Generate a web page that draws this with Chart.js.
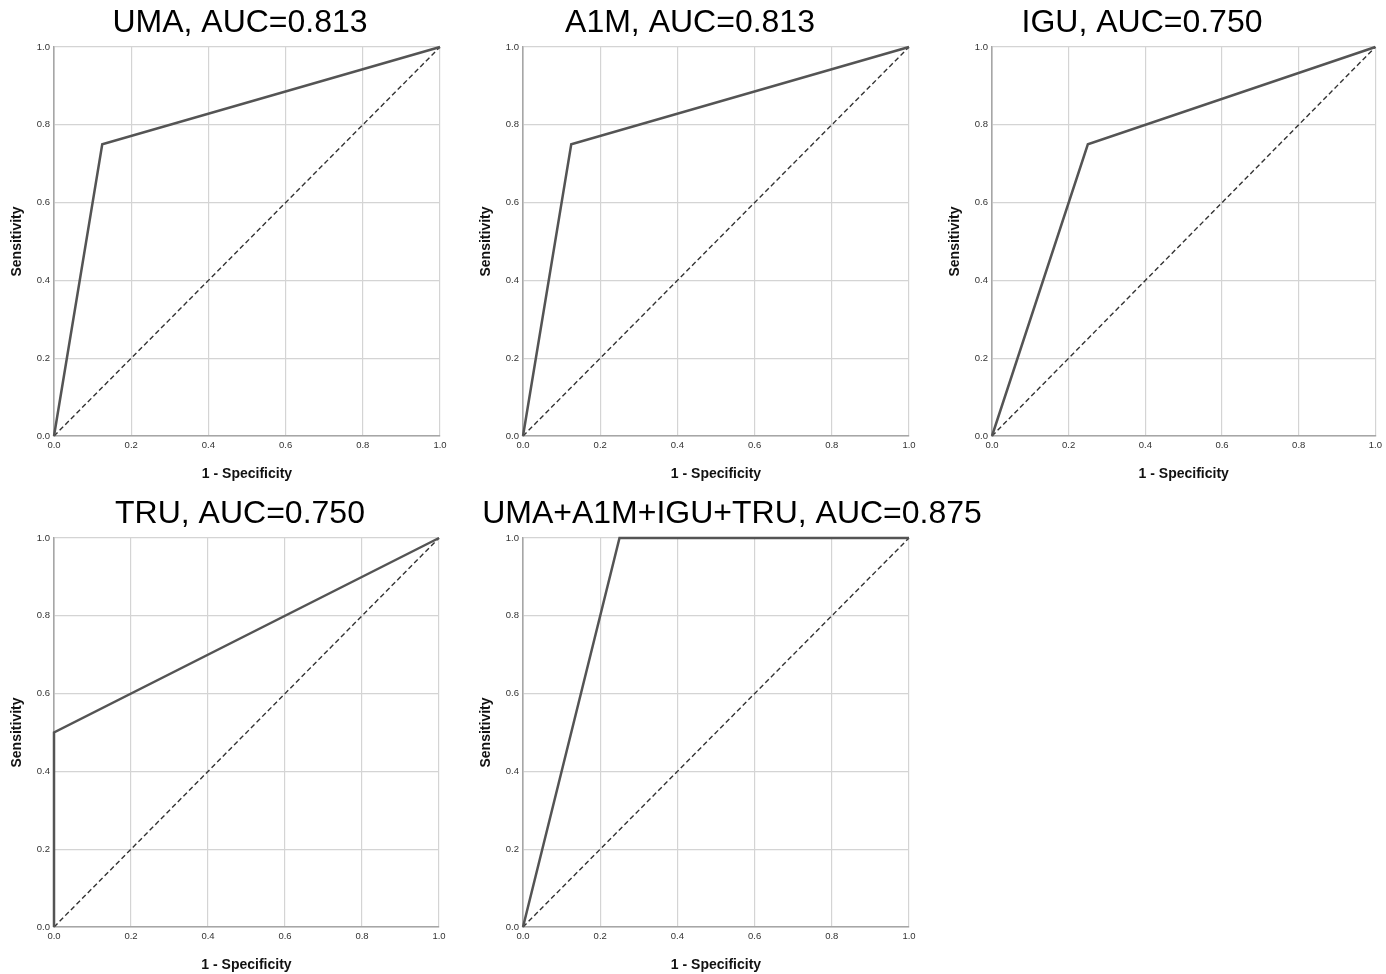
<!DOCTYPE html>
<html>
<head>
<meta charset="utf-8">
<script src="https://cdn.jsdelivr.net/npm/chart.js@4/dist/chart.umd.min.js"></script>
<style>
  body { margin: 0; background: #fff; width: 1386px; height: 974px; overflow: hidden; position: relative; }
  .box { position: absolute; }
</style>
</head>
<body>
<div class="box" id="b1"><canvas id="c1"></canvas></div>
<div class="box" id="b2"><canvas id="c2"></canvas></div>
<div class="box" id="b3"><canvas id="c3"></canvas></div>
<div class="box" id="b4"><canvas id="c4"></canvas></div>
<div class="box" id="b5"><canvas id="c5"></canvas></div>
<script>
// ROC curves
let titles = ['UMA, AUC=0.813', 'A1M, AUC=0.813', 'IGU, AUC=0.750', 'TRU, AUC=0.750', 'UMA+A1M+IGU+TRU, AUC=0.875'];
let umaX = [0, 0.125, 1];
let umaY = [0, 0.75, 1];
let a1mX = [0, 0.125, 1];
let a1mY = [0, 0.75, 1];
let iguX = [0, 0.25, 1];
let iguY = [0, 0.75, 1];
let truX = [0, 0, 1];
let truY = [0, 0.5, 1];
let allX = [0, 0.25, 1];
let allY = [0, 1, 1];
let refX = [0, 1];
let refY = [0, 1];
let tickLabels = ['0.0', '0.2', '0.4', '0.6', '0.8', '1.0'];

let curvesX = [umaX, a1mX, iguX, truX, allX];
let curvesY = [umaY, a1mY, iguY, truY, allY];

// canvas box for each panel; tc = where the title is centred (page x)
let boxes = [
  { left: 0,   top: 0,   w: 460, h: 490, pr: 20, tc: 240 },
  { left: 469, top: 0,   w: 460, h: 490, pr: 20, tc: 690 },
  { left: 938, top: 0,   w: 448, h: 490, pr: 9,  tc: 1142 },
  { left: 0,   top: 491, w: 460, h: 490, pr: 21, tc: 240 },
  { left: 469, top: 491, w: 521, h: 490, pr: 81, tc: 732 }
];

const FONT = '"Liberation Sans", Arial, sans-serif';

function toPoints(xs, ys) {
  return xs.map((x, i) => ({ x: x, y: ys[i] }));
}

function makeChart(i) {
  let b = boxes[i];
  let div = document.getElementById('b' + (i + 1));
  div.style.left = b.left + 'px';
  div.style.top = b.top + 'px';
  div.style.width = b.w + 'px';
  div.style.height = b.h + 'px';

  let axis = (title, isX) => ({
    type: 'linear',
    min: 0,
    max: 1,
    afterFit: s => { if (isX) s.height = 54; else s.width = 54; },
    afterBuildTicks: s => { s.ticks = tickLabels.map(t => ({ value: parseFloat(t) })); },
    ticks: {
      font: { family: FONT, size: 9.5 },
      color: '#333',
      padding: 4,
      maxRotation: 0,
      callback: (v, k) => tickLabels[k]
    },
    grid: { color: '#d4d4d4', lineWidth: 1.2, drawTicks: false },
    border: { color: '#a6a6a6', width: 1.6 },
    title: {
      display: true,
      text: title,
      color: '#111',
      font: { family: FONT, size: 14, weight: 'bold' },
      padding: isX ? { top: 0, bottom: 7 } : { top: 9, bottom: 0 }
    }
  });

  let panelTitle = {
    id: 'panelTitle',
    afterDraw(chart) {
      let ctx = chart.ctx;
      ctx.save();
      ctx.font = '32px ' + FONT;
      ctx.fillStyle = '#000';
      ctx.textAlign = 'center';
      ctx.textBaseline = 'middle';
      ctx.fillText(titles[i], b.tc - b.left, 23);
      ctx.restore();
    }
  };

  new Chart(document.getElementById('c' + (i + 1)), {
    type: 'scatter',
    data: {
      datasets: [
        {
          data: toPoints(curvesX[i], curvesY[i]),
          showLine: true,
          borderColor: '#545454',
          borderWidth: 2.5,
          pointRadius: 0,
          clip: false,
          order: 0
        },
        {
          data: toPoints(refX, refY),
          showLine: true,
          borderColor: '#333',
          borderWidth: 1.4,
          borderDash: [5, 3],
          pointRadius: 0,
          clip: false,
          order: 1
        }
      ]
    },
    options: {
      responsive: true,
      maintainAspectRatio: false,
      animation: false,
      layout: { padding: { left: 0, right: b.pr, top: 47, bottom: 0 } },
      plugins: {
        legend: { display: false },
        tooltip: { enabled: false },
        title: { display: false }
      },
      scales: {
        x: axis('1 - Specificity', true),
        y: axis('Sensitivity', false)
      }
    },
    plugins: [panelTitle]
  });
}

for (let i = 0; i < 5; i++) makeChart(i);
</script>
</body>
</html>
